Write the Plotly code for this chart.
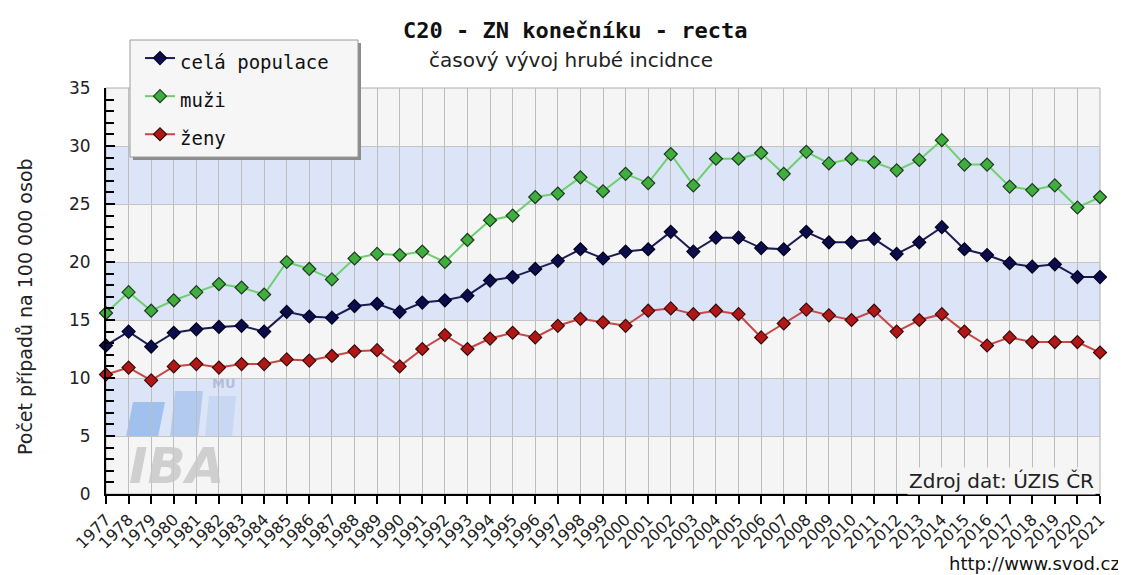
import plotly.graph_objects as go

# ---- data ----
years = list(range(1977, 2022))
year_labels = [str(y) for y in years]

cela_populace = [12.8, 14.0, 12.7, 13.9, 14.2, 14.4, 14.5, 14.0, 15.7, 15.3,
                 15.2, 16.2, 16.4, 15.7, 16.5, 16.7, 17.1, 18.4, 18.7, 19.4,
                 20.1, 21.1, 20.3, 20.9, 21.1, 22.6, 20.9, 22.1, 22.1, 21.2,
                 21.1, 22.6, 21.7, 21.7, 22.0, 20.7, 21.7, 23.0, 21.1, 20.6,
                 19.9, 19.6, 19.8, 18.7, 18.7]

muzi = [15.6, 17.4, 15.8, 16.7, 17.4, 18.1, 17.8, 17.2, 20.0, 19.4,
        18.5, 20.3, 20.7, 20.6, 20.9, 20.0, 21.9, 23.6, 24.0, 25.6,
        25.9, 27.3, 26.1, 27.6, 26.8, 29.3, 26.6, 28.9, 28.9, 29.4,
        27.6, 29.5, 28.5, 28.9, 28.6, 27.9, 28.8, 30.5, 28.4, 28.4,
        26.5, 26.2, 26.6, 24.7, 25.6]

zeny = [10.3, 10.9, 9.8, 11.0, 11.2, 10.9, 11.2, 11.2, 11.6, 11.5,
        11.9, 12.3, 12.4, 11.0, 12.5, 13.7, 12.5, 13.4, 13.9, 13.5,
        14.5, 15.1, 14.8, 14.5, 15.8, 16.0, 15.5, 15.8, 15.5, 13.5,
        14.7, 15.9, 15.4, 15.0, 15.8, 14.0, 15.0, 15.5, 14.0, 12.8,
        13.5, 13.1, 13.1, 13.1, 12.2]

series_names = ["celá populace", "muži", "ženy"]

# ---- geometry (screen pixels; page body has an 8px margin) ----
OFF = 8
FIG_W, FIG_H = 1126 - OFF, 575 - OFF
L, R, T, B = 106, 1100, 88, 494   # plot area on screen
W, H = R - L, B - T


def px(x):
    return (x - L) / W


def py(y):
    return (B - y) / H


fig = go.Figure()

styles = [
    dict(line="#1c1c52", marker="#0c0c4a", mline="#000020"),
    dict(line="#6dd06d", marker="#3fae3f", mline="#1e3a1e"),
    dict(line="#c84646", marker="#b01818", mline="#3a0a0a"),
]
for name, vals, st in zip(series_names, [cela_populace, muzi, zeny], styles):
    fig.add_trace(go.Scatter(
        x=years, y=vals, mode="lines+markers",
        name=f'<span style="font-size:19px">{name}</span>',
        line=dict(color=st["line"], width=2),
        marker=dict(symbol="diamond", size=10, color=st["marker"],
                    line=dict(color=st["mline"], width=1.2)),
        cliponaxis=False,
    ))

shapes = []
# alternating horizontal bands
for y0 in (5, 15, 25):
    shapes.append(dict(type="rect", xref="paper", yref="y", x0=0, x1=1,
                       y0=y0, y1=y0 + 5, fillcolor="#dce4f8",
                       line=dict(width=0), layer="below"))
# plot frame (top / right)
shapes.append(dict(type="rect", xref="paper", yref="paper", x0=0, x1=1,
                   y0=0, y1=1, line=dict(color="#b0b0b0", width=1),
                   layer="below"))


# IBA logo watermark bars
def para(pts, color):
    d = "M " + " L ".join(f"{px(a):.4f},{py(b):.4f}" for a, b in pts) + " Z"
    return dict(type="path", xref="paper", yref="paper", path=d,
                fillcolor=color, line=dict(width=0), layer="below")


shapes.append(para([(126, 437), (158, 437), (165, 402), (133, 402)],
                   "rgba(140,180,235,0.75)"))
shapes.append(para([(170, 437), (198, 437), (203, 391), (175, 391)],
                   "rgba(150,185,235,0.6)"))
shapes.append(para([(205, 437), (232, 437), (236, 396), (209, 396)],
                   "rgba(175,200,240,0.45)"))

# legend box with shadow
shapes.append(dict(type="rect", xref="paper", yref="paper",
                   x0=px(133), x1=px(361), y0=py(160), y1=py(43),
                   fillcolor="#8c8c8c", line=dict(width=0), layer="above"))
shapes.append(dict(type="rect", xref="paper", yref="paper",
                   x0=px(130), x1=px(358), y0=py(157), y1=py(40),
                   fillcolor="#f6f6f6", line=dict(color="#9a9a9a", width=1),
                   layer="above"))

annotations = [
    dict(text="<b>C20 - ZN konečníku - recta</b>", xref="paper", yref="paper",
         x=px(575), y=py(30), xanchor="center", yanchor="middle",
         showarrow=False, font=dict(family="DejaVu Sans Mono", size=22,
                                    color="#111")),
    dict(text="časový vývoj hrubé incidnce", xref="paper", yref="paper",
         x=px(571), y=py(60), xanchor="center", yanchor="middle",
         showarrow=False, font=dict(family="DejaVu Sans", size=20,
                                    color="#222")),
    dict(text="Počet případů na 100 000 osob", xref="paper", yref="paper",
         x=px(25), y=py(307), xanchor="center", yanchor="middle",
         textangle=-90, showarrow=False,
         font=dict(family="DejaVu Sans", size=19, color="#222")),
    dict(text="Zdroj dat: ÚZIS ČR", xref="paper", yref="paper",
         x=px(1096), y=py(481), xanchor="right", yanchor="middle",
         showarrow=False, bgcolor="#f5f5f5",
         font=dict(family="DejaVu Sans", size=20, color="#222")),
    dict(text="http://www.svod.cz", xref="paper", yref="paper",
         x=px(1122), y=py(551), xanchor="right", yanchor="top",
         showarrow=False,
         font=dict(family="DejaVu Sans", size=18, color="#111")),
    dict(text="<b><i>IBA</i></b>", xref="paper", yref="paper",
         x=px(176), y=py(466), xanchor="center", yanchor="middle",
         showarrow=False,
         font=dict(family="DejaVu Sans", size=50, color="rgba(200,200,200,0.85)")),
    dict(text="<b>MU</b>", xref="paper", yref="paper",
         x=px(224), y=py(383), xanchor="center", yanchor="middle",
         showarrow=False,
         font=dict(family="DejaVu Sans", size=13, color="rgba(170,180,210,0.8)")),
]

fig.update_layout(
    width=FIG_W, height=FIG_H,
    margin=dict(l=L - OFF, r=FIG_W - (R - OFF), t=T - OFF,
                b=FIG_H - (B - OFF), pad=0, autoexpand=False),
    paper_bgcolor="white", plot_bgcolor="#f5f5f5",
    showlegend=True,
    legend=dict(x=px(140), y=py(34), xanchor="left", yanchor="top",
                bgcolor="rgba(0,0,0,0)", borderwidth=0,
                font=dict(family="DejaVu Sans Mono", size=27, color="#111")),
    shapes=shapes, annotations=annotations,
    xaxis=dict(range=[1977, 2021], tickvals=years, ticktext=year_labels,
               tickangle=-45, showgrid=True, gridcolor="#bdbdbd", gridwidth=1,
               showline=True, linecolor="black", linewidth=2,
               ticks="outside", ticklen=8, tickwidth=2, tickcolor="black",
               tickfont=dict(family="DejaVu Sans", size=16, color="#222"),
               zeroline=False, automargin=False),
    yaxis=dict(range=[0, 35], dtick=5, tick0=0, showgrid=True,
               gridcolor="#c4c4c4", gridwidth=1,
               showline=True, linecolor="black", linewidth=2,
               ticks="inside", ticklen=9, tickwidth=2, tickcolor="black",
               minor=dict(dtick=1, ticks="inside", ticklen=8,
                          tickcolor="black", tickwidth=1.5, showgrid=False),
               ticklabelstandoff=10,
               tickfont=dict(family="DejaVu Sans", size=17, color="#222"),
               zeroline=False, automargin=False),
)

fig.write_html("out.html")
